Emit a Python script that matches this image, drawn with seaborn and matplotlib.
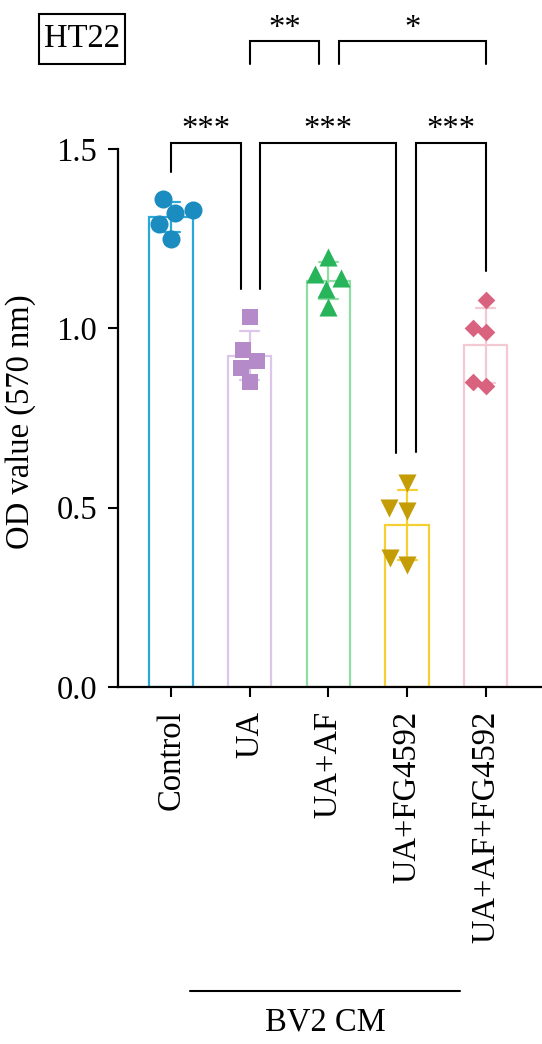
import numpy as np
import pandas as pd
import matplotlib
matplotlib.use("Agg")
import matplotlib.pyplot as plt
from matplotlib.lines import Line2D
from matplotlib.patches import Rectangle
import seaborn as sns

# groups and OD readings (5 replicates each)
groups = ['Control', 'UA', 'UA+AF', 'UA+FG4592', 'UA+AF+FG4592']
control = [1.33, 1.36, 1.32, 1.29, 1.25]
ua = [1.03, 0.91, 0.94, 0.89, 0.85]
ua_af = [1.20, 1.15, 1.14, 1.11, 1.06]
ua_fg = [0.57, 0.49, 0.50, 0.34, 0.36]
ua_af_fg = [1.08, 0.99, 1.00, 0.84, 0.85]

# significance brackets: x1, x2, left leg end, right leg end, top, label
brackets = [
    (0.0, 0.89, 1.436, 1.110, 1.517, '***'),
    (1.13, 2.86, 1.110, 0.652, 1.517, '***'),
    (3.11, 4.0, 0.655, 1.160, 1.517, '***'),
    (1.0, 1.88, 1.737, 1.737, 1.800, '**'),
    (2.13, 4.0, 1.737, 1.737, 1.800, '*'),
]

edge_colors = ['#2aa9d8', '#dcc6ea', '#8edda2', '#f6cf33', '#f3c9d3']
point_colors = ['#1a8cbf', '#b48ac8', '#27b45a', '#c49c05', '#d9627e']
markers = ['o', 's', '^', 'v', 'D']
marker_sizes = [13, 12, 13, 13, 9]

df = pd.DataFrame({
    'group': np.repeat(groups, 5),
    'od': control + ua + ua_af + ua_fg + ua_af_fg,
})

sns.set_style('ticks')
plt.rcParams['font.family'] = ['Liberation Serif', 'DejaVu Serif']
for key in ['text.color', 'axes.labelcolor', 'xtick.color', 'ytick.color',
            'axes.edgecolor']:
    plt.rcParams[key] = 'black'
FS = 23.5

W, H = 542, 1044
fig = plt.figure(figsize=(W / 100, H / 100), dpi=100)
ax = fig.add_axes([118 / W, 1 - 687 / H, 1 - 118 / W, 687 / H])

sns.barplot(data=df, x='group', y='od', hue='group', order=groups,
            hue_order=groups, palette=edge_colors, fill=False,
            errorbar='sd', capsize=0.24, width=0.55, linewidth=1.6,
            err_kws={'linewidth': 1.6}, legend=False, ax=ax)

for g, c, m, s in zip(groups, point_colors, markers, marker_sizes):
    sns.swarmplot(data=df[df['group'] == g], x='group', y='od', order=groups,
                  color=c, marker=m, size=s, linewidth=0, ax=ax, zorder=5)

ax.set_xlim(-0.673, 4.714)
ax.set_ylim(0, 1.915)
ax.set_yticks([0, 0.5, 1.0, 1.5])
ax.set_yticklabels(['0.0', '0.5', '1.0', '1.5'])
ax.spines['left'].set_bounds(0, 1.5)
ax.spines['top'].set_visible(False)
ax.spines['right'].set_visible(False)
for sp in ['left', 'bottom']:
    ax.spines[sp].set_linewidth(1.6)
ax.tick_params(axis='both', length=7, width=1.5, labelsize=FS, direction='out')
ax.tick_params(axis='y', pad=8)
ax.tick_params(axis='x', pad=10, labelrotation=90)
ax.set_xlabel('')
ax.set_ylabel('')

# significance brackets
for x1, x2, y1, y2, top, label in brackets:
    ax.plot([x1, x1, x2, x2], [y1, top, top, y2], color='black', lw=1.5,
            clip_on=False, solid_joinstyle='miter')
    ax.text((x1 + x2) / 2, top + 0.012, label, ha='center', va='baseline',
            fontsize=FS)

fig.text(21 / W, 1 - 422 / H, 'OD value (570 nm)', rotation=90,
         ha='center', va='center', fontsize=FS)

# HT22 panel tag
fig.add_artist(Rectangle((39 / W, 1 - 64 / H), 86 / W, 50 / H, fill=False,
                         ec='black', lw=1.5, transform=fig.transFigure))
fig.text(82 / W, 1 - 47 / H, 'HT22', ha='center', va='baseline', fontsize=FS)

fig.add_artist(Line2D([190 / W, 460 / W], [1 - 991 / H, 1 - 991 / H],
                      color='black', lw=1.5))
fig.text(325 / W, 1 - 1022 / H, 'BV2 CM', ha='center', va='center', fontsize=FS)

fig.savefig('out.png', dpi=100)
